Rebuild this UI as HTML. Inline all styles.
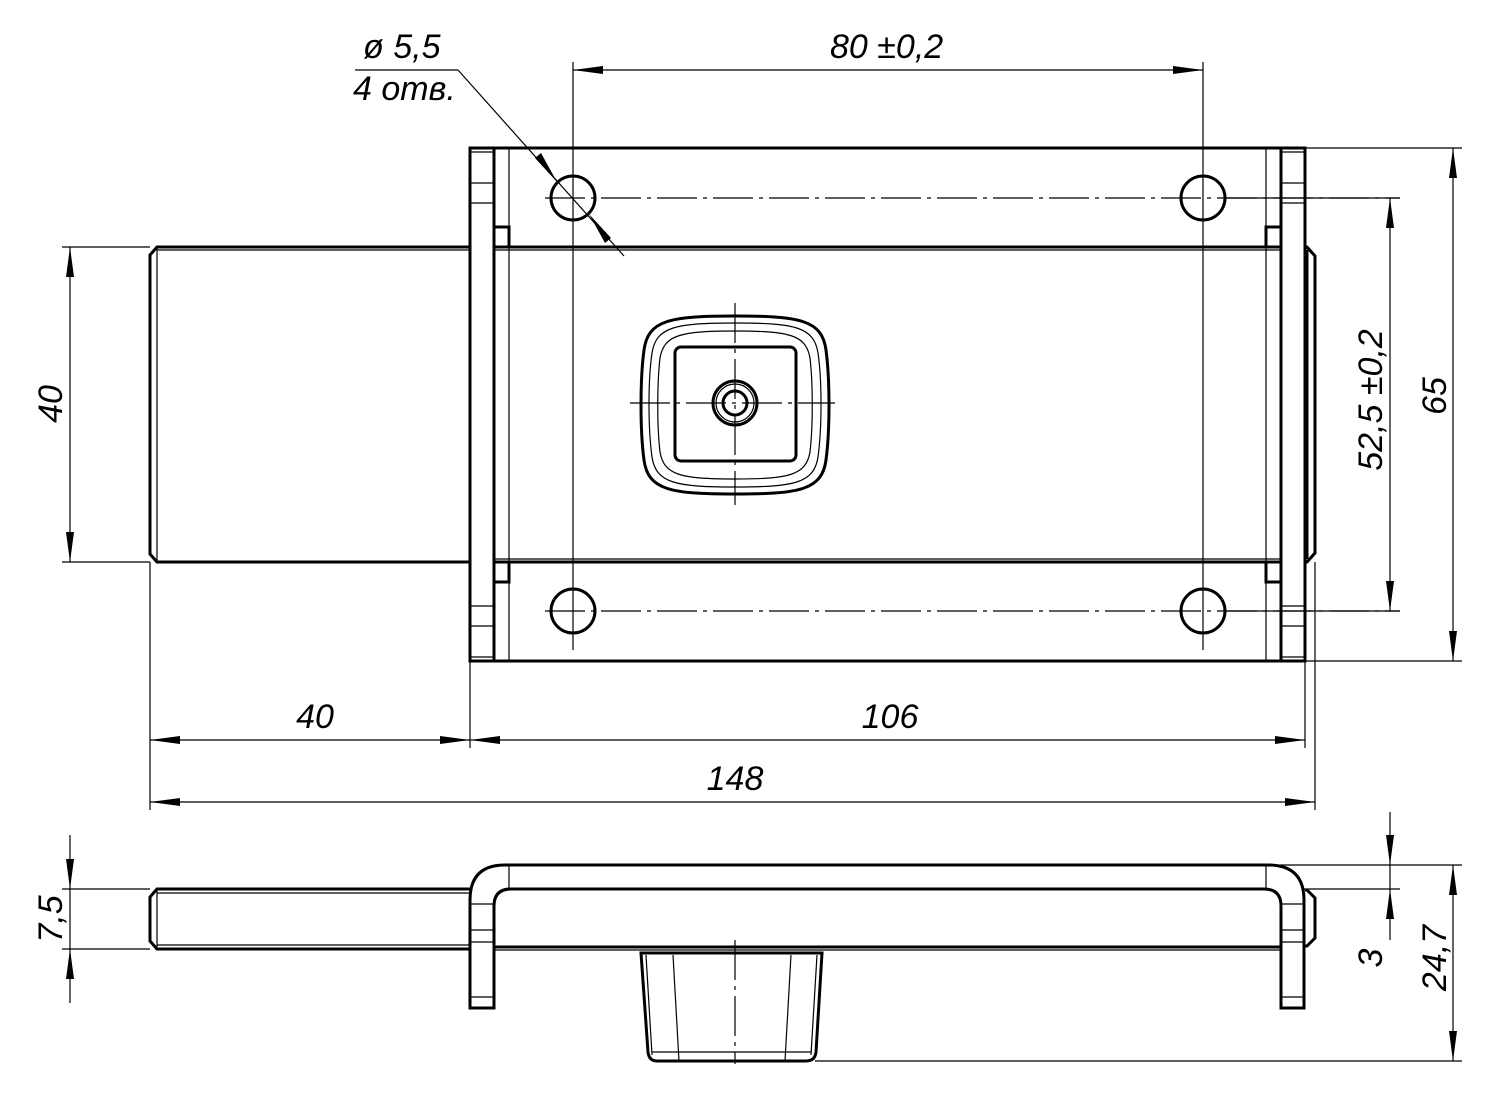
<!DOCTYPE html>
<html><head><meta charset="utf-8"><style>
html,body{margin:0;padding:0;background:#fff}
svg{display:block}
text{font-family:"Liberation Sans",sans-serif;font-style:italic;font-size:34px;fill:#000}
.k{stroke:#000;stroke-width:3;fill:none}
.t{stroke:#000;stroke-width:1.2;fill:none}
.c{stroke:#000;stroke-width:1.2;fill:none;stroke-dasharray:40 6 4 6}
.a{fill:#000}
</style></head><body>
<svg width="1493" height="1117" viewBox="0 0 1493 1117" xmlns="http://www.w3.org/2000/svg">
<!-- TOP VIEW -->
<!-- left rod -->
<path class="k" d="M470 247 H157 L150 255 V554 L157 562 H470"/>
<line class="t" x1="157" y1="247" x2="157" y2="562"/>
<line class="t" x1="157" y1="250" x2="470" y2="250"/>
<!-- plate -->
<rect class="k" x="470" y="148" width="835" height="513"/>
<line class="k" x1="494" y1="148" x2="494" y2="661"/>
<line class="k" x1="1281" y1="148" x2="1281" y2="661"/>
<line class="t" x1="509" y1="148" x2="509" y2="661"/>
<line class="t" x1="1266" y1="148" x2="1266" y2="661"/>
<line class="k" x1="494" y1="247" x2="1281" y2="247"/>
<line class="t" x1="494" y1="250" x2="1281" y2="250"/>
<line class="k" x1="494" y1="562" x2="1281" y2="562"/>
<line class="t" x1="494" y1="559" x2="1281" y2="559"/>
<rect class="k" x="494" y="227" width="15" height="20"/>
<rect class="k" x="1266" y="227" width="15" height="20"/>
<rect class="k" x="494" y="562" width="15" height="20"/>
<rect class="k" x="1266" y="562" width="15" height="20"/>
<g class="t">
<line x1="470" y1="152" x2="494" y2="152"/><line x1="470" y1="183" x2="494" y2="183"/><line x1="470" y1="203" x2="494" y2="203"/>
<line x1="470" y1="606" x2="494" y2="606"/><line x1="470" y1="626" x2="494" y2="626"/><line x1="470" y1="657" x2="494" y2="657"/>
<line x1="1281" y1="152" x2="1305" y2="152"/><line x1="1281" y1="183" x2="1305" y2="183"/><line x1="1281" y1="203" x2="1305" y2="203"/>
<line x1="1281" y1="606" x2="1305" y2="606"/><line x1="1281" y1="626" x2="1305" y2="626"/><line x1="1281" y1="657" x2="1305" y2="657"/>
</g>
<!-- right rod end -->
<path class="k" d="M1305 247 L1307 247 L1315 256 V553 L1307 562 H1305"/>
<line class="k" x1="1307" y1="250" x2="1307" y2="559"/>
<!-- holes -->
<g class="k">
<circle cx="573" cy="198" r="22"/><circle cx="1203" cy="198" r="22"/>
<circle cx="573" cy="611" r="22"/><circle cx="1203" cy="611" r="22"/>
</g>
<!-- center lines -->
<line class="c" x1="545" y1="198" x2="1400" y2="198"/>
<line class="c" x1="545" y1="611" x2="1400" y2="611"/>
<line class="t" x1="573" y1="62" x2="573" y2="650"/>
<line class="t" x1="1203" y1="62" x2="1203" y2="650"/>
<!-- knob -->
<path class="k" d="M735 316 C800 316 822 320 826 350 C830 380 830 430 826 460 C822 490 800 494 735 494 C670 494 648 490 644 460 C640 430 640 380 644 350 C648 320 670 316 735 316 Z"/>
<path class="t" d="M735 323 C795 323 814 327 818 353 C822 380 822 428 818 457 C814 483 795 487 735 487 C675 487 656 483 652 457 C648 428 648 380 652 353 C656 327 675 323 735 323 Z"/>
<path class="t" d="M735 331 C790 331 806 335 810 358 C813 384 813 426 810 452 C806 475 790 479 735 479 C680 479 664 475 660 452 C657 426 657 384 660 358 C664 335 680 331 735 331 Z"/>
<rect class="k" x="675" y="347" width="121" height="114" rx="6"/>
<circle class="k" cx="735" cy="403" r="22"/>
<circle class="t" cx="735" cy="403" r="19"/>
<circle class="k" cx="735" cy="403" r="12"/>
<line class="c" x1="735" y1="303" x2="735" y2="505" stroke-dasharray="20 5 4 5"/>
<line class="c" x1="630" y1="403" x2="835" y2="403" stroke-dasharray="20 5 4 5"/>

<!-- DIMENSIONS top -->
<line class="t" x1="573" y1="70" x2="1203" y2="70"/>
<polygon class="a" points="573,70 603,66 603,74"/><polygon class="a" points="1203,70 1173,66 1173,74"/>
<text x="830" y="58">80 ±0,2</text>
<!-- diameter leader -->
<line class="t" x1="355" y1="70" x2="458" y2="70"/>
<line class="t" x1="458" y1="70" x2="624" y2="256"/>
<polygon class="a" points="557,182 535,158 541,153"/>
<polygon class="a" points="589,214 611,238 605,243"/>
<text x="363" y="58">ø 5,5</text>
<text x="353" y="100">4 отв.</text>
<!-- 40 vertical -->
<line class="t" x1="62" y1="247" x2="150" y2="247"/><line class="t" x1="62" y1="562" x2="150" y2="562"/>
<line class="t" x1="70" y1="247" x2="70" y2="562"/>
<polygon class="a" points="70,247 66,277 74,277"/><polygon class="a" points="70,562 66,532 74,532"/>
<text transform="translate(62,404) rotate(-90)" text-anchor="middle">40</text>
<!-- 52.5 -->
<line class="t" x1="1225" y1="198" x2="1400" y2="198"/><line class="t" x1="1225" y1="611" x2="1400" y2="611"/>
<line class="t" x1="1390" y1="198" x2="1390" y2="611"/>
<polygon class="a" points="1390,198 1386,228 1394,228"/><polygon class="a" points="1390,611 1386,581 1394,581"/>
<text transform="translate(1382,400) rotate(-90)" text-anchor="middle">52,5 ±0,2</text>
<!-- 65 -->
<line class="t" x1="1305" y1="148" x2="1462" y2="148"/><line class="t" x1="1305" y1="661" x2="1462" y2="661"/>
<line class="t" x1="1453" y1="148" x2="1453" y2="661"/>
<polygon class="a" points="1453,148 1449,178 1457,178"/><polygon class="a" points="1453,661 1449,631 1457,631"/>
<text transform="translate(1446,396) rotate(-90)" text-anchor="middle">65</text>
<!-- horizontal dims -->
<line class="t" x1="150" y1="562" x2="150" y2="810"/>
<line class="t" x1="470" y1="661" x2="470" y2="748"/>
<line class="t" x1="1305" y1="661" x2="1305" y2="748"/>
<line class="t" x1="1315" y1="562" x2="1315" y2="810"/>
<line class="t" x1="150" y1="740" x2="1305" y2="740"/>
<polygon class="a" points="150,740 180,736 180,744"/><polygon class="a" points="470,740 440,736 440,744"/>
<polygon class="a" points="470,740 500,736 500,744"/><polygon class="a" points="1305,740 1275,736 1275,744"/>
<text x="315" y="728" text-anchor="middle">40</text>
<text x="890" y="728" text-anchor="middle">106</text>
<line class="t" x1="150" y1="802" x2="1315" y2="802"/>
<polygon class="a" points="150,802 180,798 180,806"/><polygon class="a" points="1315,802 1285,798 1285,806"/>
<text x="735" y="790" text-anchor="middle">148</text>

<!-- BOTTOM VIEW -->
<path class="k" d="M470 889 H157 L150 897 V941 L157 949 H470"/>
<line class="t" x1="157" y1="889" x2="157" y2="949"/>
<line class="t" x1="157" y1="893" x2="470" y2="893"/>
<line class="t" x1="157" y1="945" x2="470" y2="945"/>
<!-- plate bent -->
<path class="k" d="M470 1008 V900 Q470 865 505 865 H1268 Q1304 865 1304 900 V1008 H1281 V906 Q1281 889 1264 889 H511 Q494 889 494 906 V1008 Z"/>
<line class="t" x1="509" y1="865" x2="509" y2="889"/>
<line class="t" x1="1266" y1="865" x2="1266" y2="889"/>
<line class="k" x1="494" y1="947" x2="1281" y2="947"/>
<line class="t" x1="494" y1="950" x2="1281" y2="950"/>
<g class="t">
<line x1="470" y1="904" x2="494" y2="904"/><line x1="470" y1="930" x2="494" y2="930"/><line x1="470" y1="942" x2="494" y2="942"/><line x1="470" y1="997" x2="494" y2="997"/>
<line x1="1281" y1="904" x2="1304" y2="904"/><line x1="1281" y1="930" x2="1304" y2="930"/><line x1="1281" y1="942" x2="1304" y2="942"/><line x1="1281" y1="997" x2="1304" y2="997"/>
</g>
<path class="k" d="M1305 890 L1307 890 L1315 898 V938 L1307 946 H1305"/>
<!-- cup -->
<path class="k" d="M641 953 H822 L816 1052 Q815 1061 806 1061 H657 Q649 1061 648 1052 Z"/>
<g class="t">
<line x1="646" y1="955" x2="652" y2="1055"/><line x1="817" y1="955" x2="811" y2="1055"/>
<line x1="673" y1="955" x2="679" y2="1061"/><line x1="791" y1="955" x2="785" y2="1061"/>
<line x1="652" y1="1052" x2="811" y2="1052"/>
</g>
<line class="c" x1="735" y1="940" x2="735" y2="1064" stroke-dasharray="20 5 4 5"/>
<!-- bottom dims -->
<line class="t" x1="62" y1="889" x2="150" y2="889"/><line class="t" x1="62" y1="949" x2="150" y2="949"/>
<line class="t" x1="70" y1="835" x2="70" y2="1003"/>
<polygon class="a" points="70,889 66,859 74,859"/><polygon class="a" points="70,949 66,979 74,979"/>
<text transform="translate(62,919) rotate(-90)" text-anchor="middle">7,5</text>
<line class="t" x1="1280" y1="865" x2="1462" y2="865"/><line class="t" x1="1304" y1="889" x2="1400" y2="889"/>
<line class="t" x1="1390" y1="812" x2="1390" y2="940"/>
<polygon class="a" points="1390,865 1386,835 1394,835"/><polygon class="a" points="1390,889 1386,919 1394,919"/>
<text transform="translate(1382,958) rotate(-90)" text-anchor="middle">3</text>
<line class="t" x1="815" y1="1061" x2="1462" y2="1061"/>
<line class="t" x1="1453" y1="865" x2="1453" y2="1061"/>
<polygon class="a" points="1453,865 1449,895 1457,895"/><polygon class="a" points="1453,1061 1449,1031 1457,1031"/>
<text transform="translate(1446,958) rotate(-90)" text-anchor="middle">24,7</text>
</svg>
</body></html>
